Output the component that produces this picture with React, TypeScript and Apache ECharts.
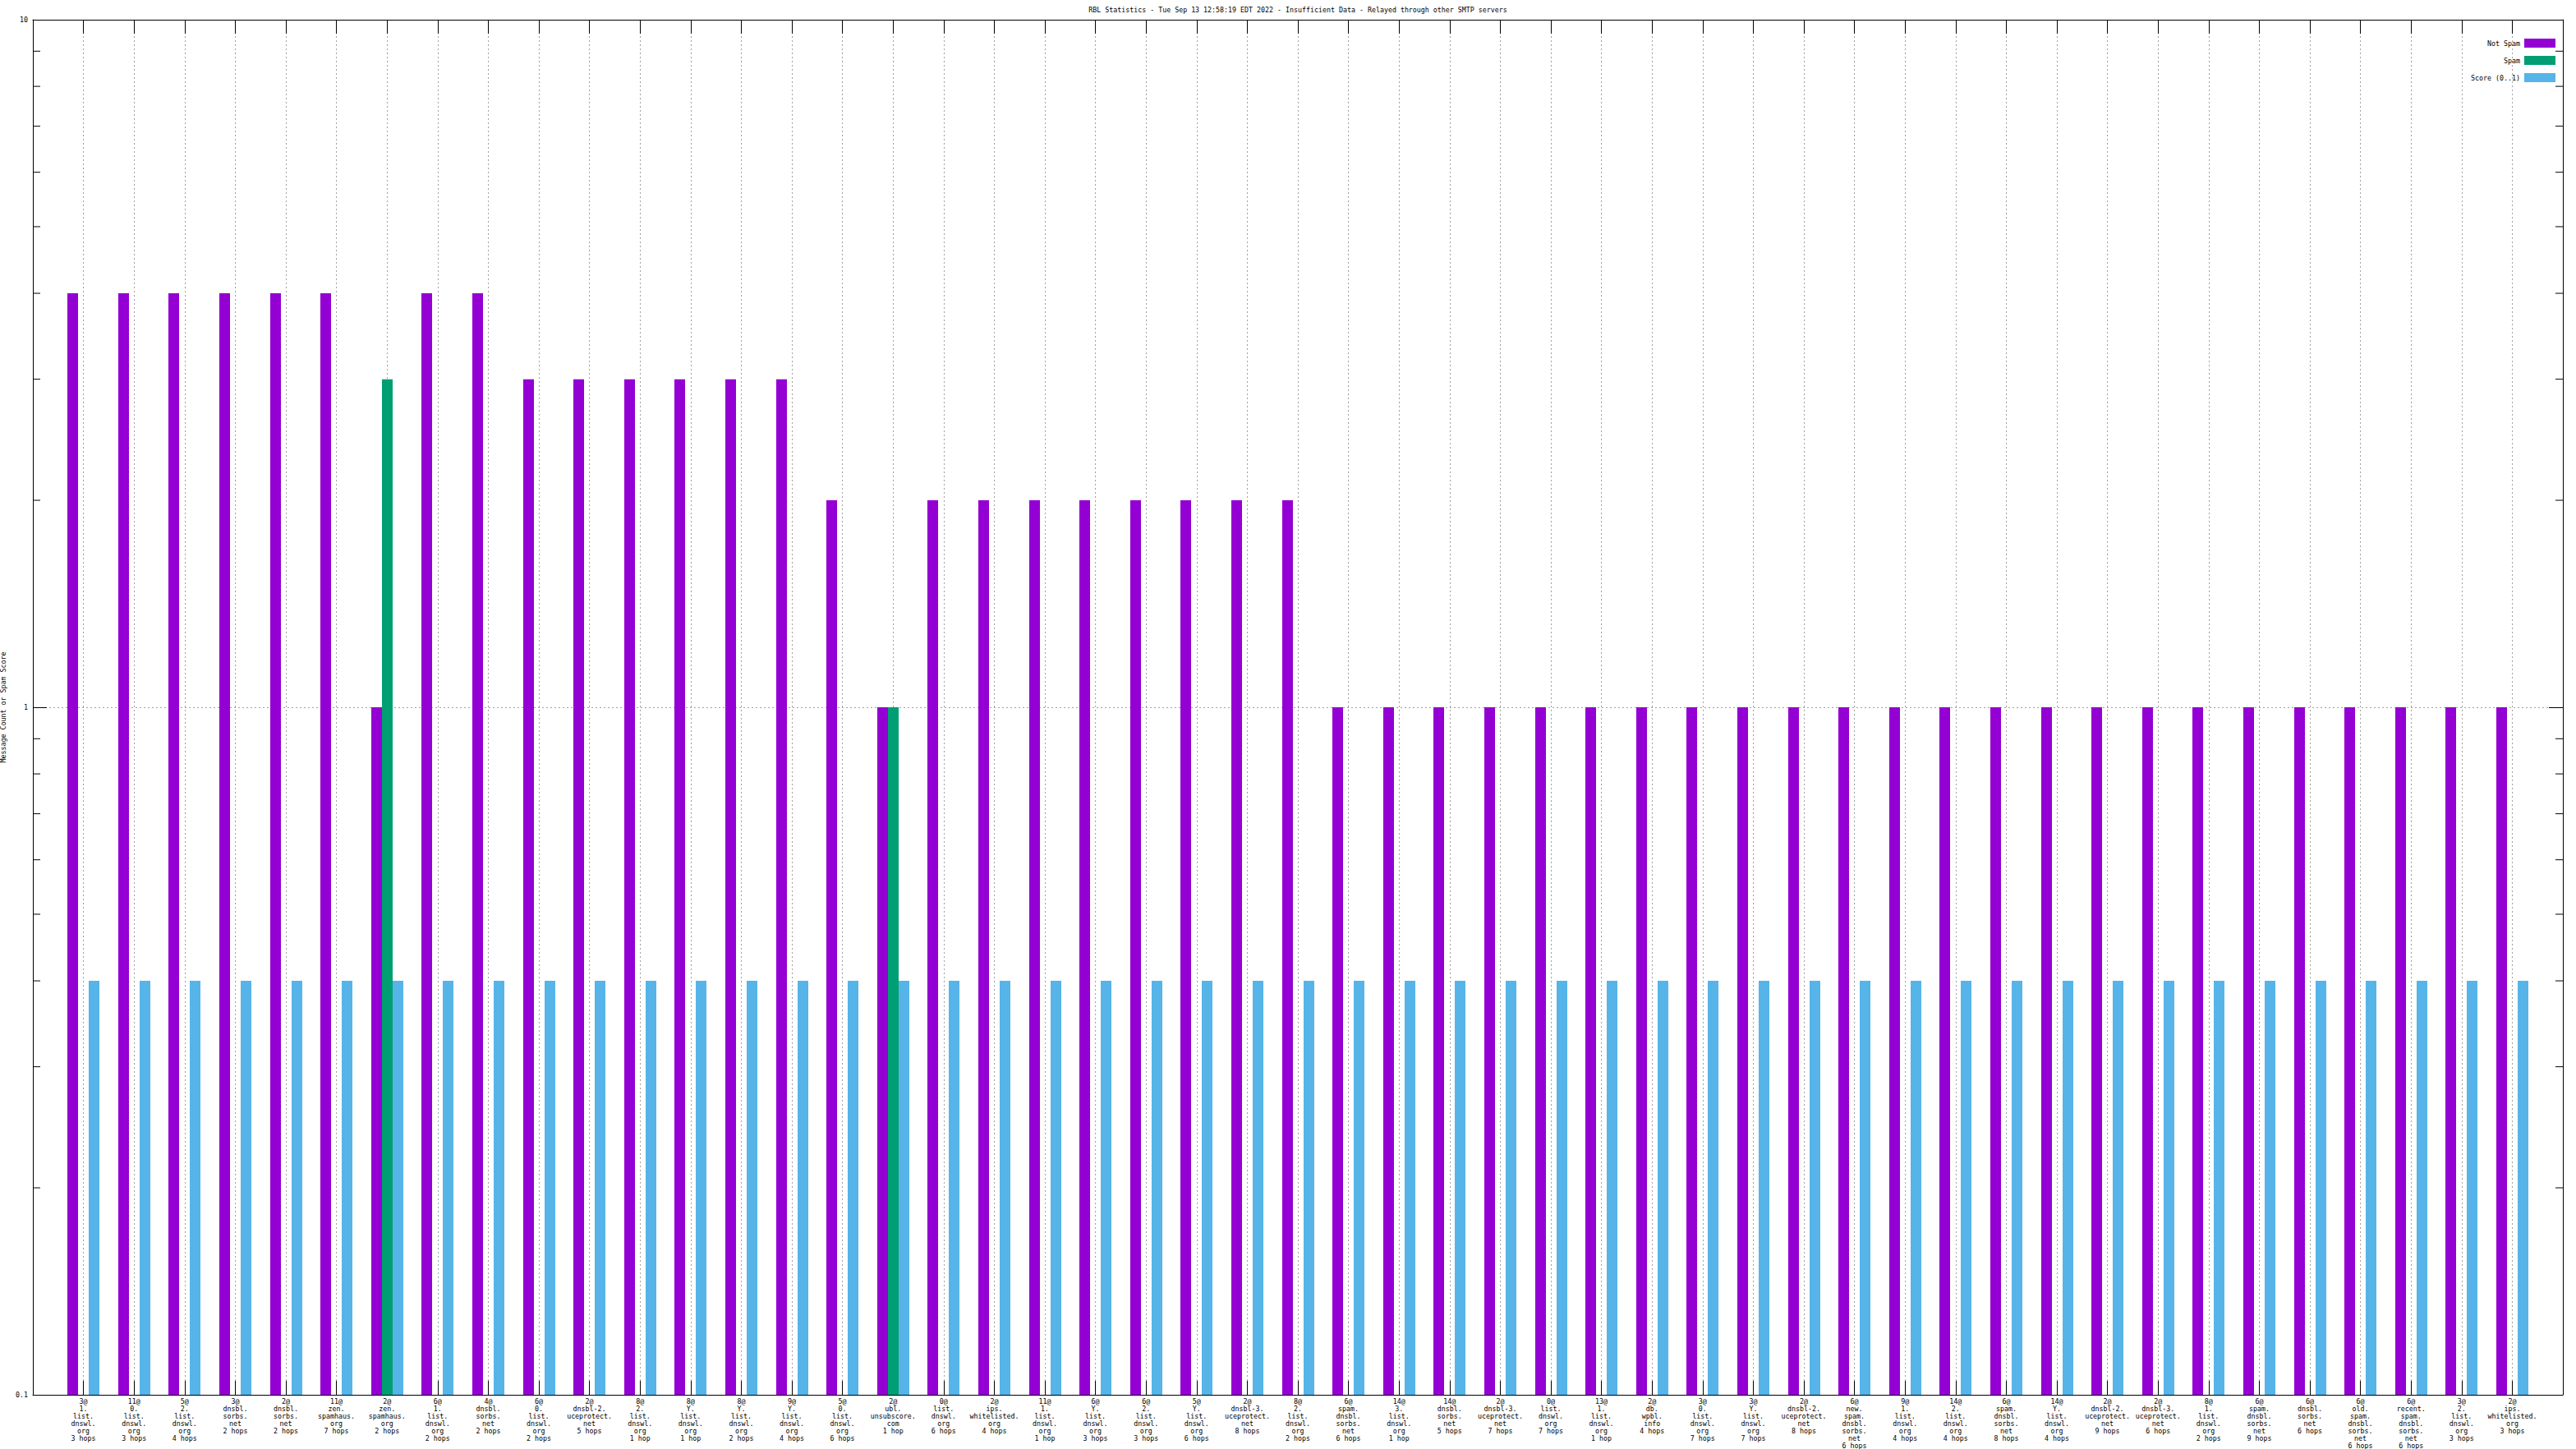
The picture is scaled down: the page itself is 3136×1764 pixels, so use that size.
import React, { useEffect, useRef } from 'react';
import * as echarts from 'echarts';

const TITLE =
  'RBL Statistics - Tue Sep 13 12:58:19 EDT 2022 - Insufficient Data - Relayed through other SMTP servers';
const Y_NAME = 'Message Count or Spam Score';
const seriesNames = ['Not Spam', 'Spam', 'Score (0..1)'];

const categories = [
  '3@\n1.\nlist.\ndnswl.\norg\n3 hops',
  '11@\n0.\nlist.\ndnswl.\norg\n3 hops',
  '5@\n2.\nlist.\ndnswl.\norg\n4 hops',
  '3@\ndnsbl.\nsorbs.\nnet\n2 hops',
  '2@\ndnsbl.\nsorbs.\nnet\n2 hops',
  '11@\nzen.\nspamhaus.\norg\n7 hops',
  '2@\nzen.\nspamhaus.\norg\n2 hops',
  '6@\n1.\nlist.\ndnswl.\norg\n2 hops',
  '4@\ndnsbl.\nsorbs.\nnet\n2 hops',
  '6@\n0.\nlist.\ndnswl.\norg\n2 hops',
  '2@\ndnsbl-2.\nuceprotect.\nnet\n5 hops',
  '8@\n2.\nlist.\ndnswl.\norg\n1 hop',
  '8@\nY.\nlist.\ndnswl.\norg\n1 hop',
  '8@\nY.\nlist.\ndnswl.\norg\n2 hops',
  '9@\nY.\nlist.\ndnswl.\norg\n4 hops',
  '5@\n0.\nlist.\ndnswl.\norg\n6 hops',
  '2@\nubl.\nunsubscore.\ncom\n1 hop',
  '0@\nlist.\ndnswl.\norg\n6 hops',
  '2@\nips.\nwhitelisted.\norg\n4 hops',
  '11@\n1.\nlist.\ndnswl.\norg\n1 hop',
  '6@\nY.\nlist.\ndnswl.\norg\n3 hops',
  '6@\n2.\nlist.\ndnswl.\norg\n3 hops',
  '5@\nY.\nlist.\ndnswl.\norg\n6 hops',
  '2@\ndnsbl-3.\nuceprotect.\nnet\n8 hops',
  '8@\n2.\nlist.\ndnswl.\norg\n2 hops',
  '6@\nspam.\ndnsbl.\nsorbs.\nnet\n6 hops',
  '14@\n3.\nlist.\ndnswl.\norg\n1 hop',
  '14@\ndnsbl.\nsorbs.\nnet\n5 hops',
  '2@\ndnsbl-3.\nuceprotect.\nnet\n7 hops',
  '0@\nlist.\ndnswl.\norg\n7 hops',
  '13@\n1.\nlist.\ndnswl.\norg\n1 hop',
  '2@\ndb.\nwpbl.\ninfo\n4 hops',
  '3@\n0.\nlist.\ndnswl.\norg\n7 hops',
  '3@\nY.\nlist.\ndnswl.\norg\n7 hops',
  '2@\ndnsbl-2.\nuceprotect.\nnet\n8 hops',
  '6@\nnew.\nspam.\ndnsbl.\nsorbs.\nnet\n6 hops',
  '9@\n1.\nlist.\ndnswl.\norg\n4 hops',
  '14@\n2.\nlist.\ndnswl.\norg\n4 hops',
  '6@\nspam.\ndnsbl.\nsorbs.\nnet\n8 hops',
  '14@\nY.\nlist.\ndnswl.\norg\n4 hops',
  '2@\ndnsbl-2.\nuceprotect.\nnet\n9 hops',
  '2@\ndnsbl-3.\nuceprotect.\nnet\n6 hops',
  '8@\n1.\nlist.\ndnswl.\norg\n2 hops',
  '6@\nspam.\ndnsbl.\nsorbs.\nnet\n9 hops',
  '6@\ndnsbl.\nsorbs.\nnet\n6 hops',
  '6@\nold.\nspam.\ndnsbl.\nsorbs.\nnet\n6 hops',
  '6@\nrecent.\nspam.\ndnsbl.\nsorbs.\nnet\n6 hops',
  '3@\n2.\nlist.\ndnswl.\norg\n3 hops',
  '2@\nips.\nwhitelisted.\norg\n3 hops',
];

const notSpam = [
  4, 4, 4, 4, 4, 4, 1, 4, 4, 3, 3, 3, 3, 3, 3, 2, 1, 2, 2, 2, 2, 2, 2, 2, 2,
  1, 1, 1, 1, 1, 1, 1, 1, 1, 1, 1, 1, 1, 1, 1, 1, 1, 1, 1, 1, 1, 1, 1, 1,
];

const spam: (number | null)[] = [
  null, null, null, null, null, null, 3, null, null, null, null, null, null, null, null, null, 1, null, null, null, null, null, null, null, null,
  null, null, null, null, null, null, null, null, null, null, null, null, null, null, null, null, null, null, null, null, null, null, null, null,
];

const score = [
  0.4, 0.4, 0.4, 0.4, 0.4, 0.4, 0.4, 0.4, 0.4, 0.4, 0.4, 0.4, 0.4, 0.4, 0.4, 0.4, 0.4, 0.4, 0.4, 0.4, 0.4, 0.4, 0.4, 0.4, 0.4,
  0.4, 0.4, 0.4, 0.4, 0.4, 0.4, 0.4, 0.4, 0.4, 0.4, 0.4, 0.4, 0.4, 0.4, 0.4, 0.4, 0.4, 0.4, 0.4, 0.4, 0.4, 0.4, 0.4, 0.4,
];

const minorTickValues = [0.2, 0.3, 0.4, 0.5, 0.6, 0.7, 0.8, 0.9, 2, 3, 4, 5, 6, 7, 8, 9];

const colors = ['#9400d3', '#009e73', '#56b4e9'];

const FONT = 'DejaVu Sans Mono';
const FS = 8.3;
const Y_MIN = 0.1;
const Y_MAX = 10;

export default function App() {
  const ref = useRef<HTMLDivElement>(null);

  useEffect(() => {
    const chart = echarts.init(ref.current!, null, { renderer: 'svg' });
    const n = categories.length;
    const xMin = -1;
    const xMax = n;
    const textBase = { fontFamily: FONT, fontSize: FS, color: '#000' };
    const axisLineStyle = { color: '#000', width: 1 };
    const BAR_W = 13;
    const offsets = [-BAR_W, 0, BAR_W];

    const barSeries = (k: number, values: (number | null)[]) => ({
      type: 'custom',
      name: seriesNames[k],
      xAxisIndex: 0,
      yAxisIndex: 0,
      encode: { x: 0, y: 1 },
      itemStyle: { color: colors[k] },
      data: values
        .map((v, i) => (v == null ? null : [i, v]))
        .filter((d) => d !== null),
      renderItem: (params: any, api: any) => {
        const i = api.value(0);
        const v = api.value(1);
        const top = api.coord([i, v]);
        const base = api.coord([i, Y_MIN]);
        const x = Math.round(top[0] + offsets[k] - BAR_W / 2);
        return {
          type: 'rect',
          shape: { x, y: top[1], width: BAR_W, height: base[1] - top[1] },
          style: { fill: colors[k] },
        };
      },
    });

    const option: any = {
      animation: false,
      backgroundColor: '#ffffff',
      title: {
        text: TITLE,
        left: 1580,
        top: 8,
        textAlign: 'center',
        padding: 0,
        textStyle: { ...textBase, fontWeight: 'normal' },
      },
      legend: {
        data: seriesNames,
        orient: 'vertical',
        align: 'right',
        right: 25,
        top: 47,
        padding: 0,
        itemWidth: 38,
        itemHeight: 11,
        itemGap: 10,
        icon: 'rect',
        textStyle: textBase,
      },
      grid: {
        left: 40,
        right: 16,
        top: 24,
        bottom: 66,
        containLabel: false,
        outerBoundsMode: 'none',
      },
      xAxis: [
        {
          type: 'value',
          position: 'bottom',
          min: xMin,
          max: xMax,
          interval: 1,
          axisLine: { show: true, onZero: false, lineStyle: axisLineStyle },
          axisTick: { show: true, inside: true, length: 17, lineStyle: axisLineStyle },
          splitLine: { show: true, lineStyle: { color: '#a0a0a0', width: 1, type: [2, 3] } },
          axisLabel: {
            ...textBase,
            lineHeight: 9,
            margin: 3,
            formatter: (v: number) =>
              Number.isInteger(v) && v >= 0 && v < n ? categories[v] : '',
          },
        },
        {
          type: 'value',
          position: 'top',
          min: xMin,
          max: xMax,
          interval: 1,
          axisLine: { show: true, onZero: false, lineStyle: axisLineStyle },
          axisTick: { show: true, inside: true, length: 17, lineStyle: axisLineStyle },
          splitLine: { show: false },
          axisLabel: { show: false },
        },
      ],
      yAxis: [
        {
          type: 'log',
          logBase: 10,
          min: Y_MIN,
          max: Y_MAX,
          position: 'left',
          name: Y_NAME,
          nameLocation: 'middle',
          nameRotate: 90,
          nameGap: 28,
          nameTextStyle: textBase,
          axisLine: { show: true, onZero: false, lineStyle: axisLineStyle },
          axisTick: { show: true, inside: true, length: 17, lineStyle: axisLineStyle },
          minorTick: { show: false },
          splitLine: { show: true, lineStyle: { color: '#a0a0a0', width: 1, type: [2, 3] } },
          axisLabel: {
            ...textBase,
            margin: 6,
            formatter: (v: number) => String(parseFloat(Number(v).toPrecision(6))),
          },
        },
        {
          type: 'log',
          logBase: 10,
          min: Y_MIN,
          max: Y_MAX,
          position: 'right',
          axisLine: { show: true, onZero: false, lineStyle: axisLineStyle },
          axisTick: { show: true, inside: true, length: 17, lineStyle: axisLineStyle },
          minorTick: { show: false },
          splitLine: { show: false },
          axisLabel: { show: false },
        },
      ],
      series: [
        barSeries(0, notSpam),
        barSeries(1, spam),
        barSeries(2, score),
        {
          type: 'custom',
          name: 'minorTicks',
          xAxisIndex: 0,
          yAxisIndex: 0,
          silent: true,
          clip: false,
          z: 10,
          encode: { x: 0, y: 1 },
          data: minorTickValues.map((v) => [xMin, v]),
          renderItem: (params: any, api: any) => {
            const v = api.value(1);
            const l = api.coord([xMin, v]);
            const r = api.coord([xMax, v]);
            const st = { stroke: '#000', lineWidth: 1 };
            return {
              type: 'group',
              children: [
                { type: 'line', shape: { x1: l[0], y1: l[1], x2: l[0] + 9, y2: l[1] }, style: st },
                { type: 'line', shape: { x1: r[0] - 9, y1: r[1], x2: r[0], y2: r[1] }, style: st },
              ],
            };
          },
        },
      ],
    };

    chart.setOption(option);
    return () => chart.dispose();
  }, []);

  return (
    <div
      ref={ref}
      style={{ position: 'fixed', left: 0, top: 0, width: 3136, height: 1764, background: '#fff' }}
    />
  );
}
